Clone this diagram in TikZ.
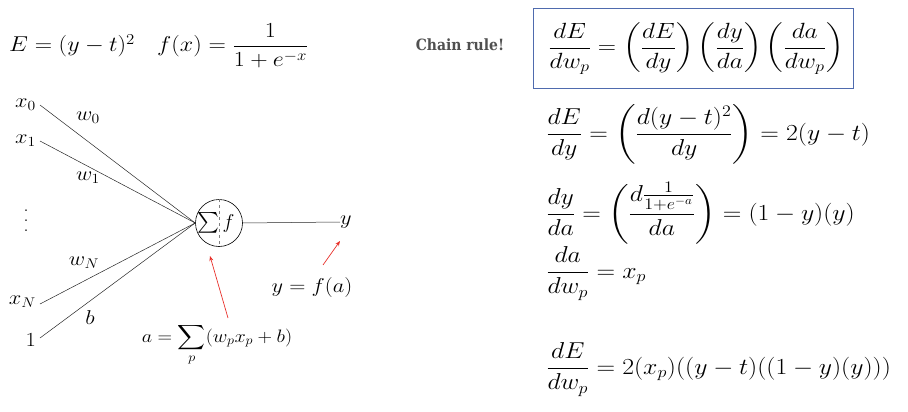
\RequirePackage{fix-cm}
\documentclass[tikz,border=0pt]{standalone}
\usepackage{amsmath}
\usepackage{graphicx}
\usepackage{fontspec}
\newfontfamily\chainfont{DejaVu Serif Condensed Bold}
\usetikzlibrary{arrows.meta}
\definecolor{boxblue}{HTML}{4F6BAE}
\definecolor{redarrow}{HTML}{E8302A}
\definecolor{chaingray}{HTML}{505050}
\newcommand\myxs[1]{\scalebox{1.12}[1]{#1}}
\tikzset{
  mathtxt/.style={inner sep=0pt, font=\fontsize{20}{24}\selectfont},
  bigmath/.style={inner sep=0pt, font=\fontsize{23}{27}\selectfont},
  topmath/.style={inner sep=0pt, font=\fontsize{21.5}{25}\selectfont},
  wire/.style={line width=0.5pt, draw=black!85},
  redarr/.style={draw=redarrow, line width=0.7pt, -{Stealth[length=5pt,width=4pt]}},
}
\begin{document}
\begin{tikzpicture}[x=1pt,y=-1pt]
\useasboundingbox (0,0) rectangle (908,412);
% top formulas
\node[topmath, anchor=base west] (eqE) at (9,52) {\myxs{$E=(y-t)^2$}};
\node[topmath, anchor=base west] (eqf) at (157,52) {\myxs{$f(x)=\dfrac{1}{1+e^{-x}}$}};
\node[anchor=center, font=\chainfont\fontsize{15.5}{18}\selectfont, text=chaingray] (chain) at (460,45) {Chain rule!};
% chain rule box
\draw[boxblue, line width=0.9pt] (533,8) rectangle (853,88);
\node[font=\fontsize{22}{26}\selectfont, inner sep=0pt, anchor=center] (chaineq) at (696,49)
  {\scalebox{1.15}[1]{$\dfrac{dE}{dw_p}=\left(\dfrac{dE}{dy}\right)\left(\dfrac{dy}{da}\right)\left(\dfrac{da}{dw_p}\right)$}};
% right equations
\node[bigmath, anchor=base west] (eq1) at (546,140) {\myxs{$\dfrac{dE}{dy}=\left(\dfrac{d(y-t)^2}{dy}\right)=2(y-t)$}};
\node[bigmath, anchor=base west] (eq2) at (546,220) {\myxs{$\dfrac{dy}{da}=\left(\dfrac{d\frac{1}{1+e^{-a}}}{da}\right)=(1-y)(y)$}};
\node[bigmath, anchor=base west] (eq3) at (546,278) {\myxs{$\dfrac{da}{dw_p}=x_p$}};
\node[bigmath, anchor=base west] (eq4) at (546,374) {\myxs{$\dfrac{dE}{dw_p}=2(x_p)((y-t)((1-y)(y)))$}};
% neuron
\node[mathtxt, anchor=east] (x0) at (36,105) {\myxs{$x_0$}};
\node[mathtxt, anchor=east] (x1) at (36,141) {\myxs{$x_1$}};
\node[mathtxt] (vd) at (26,221) {\vbox{\baselineskip=10pt\hbox{.}\hbox{.}\hbox{.}}};
\node[mathtxt, anchor=east] (xN) at (36,302) {\myxs{$x_N$}};
\node[mathtxt, anchor=east] (one) at (36,340) {\myxs{$1$}};
\node[draw, circle, minimum size=47pt, inner sep=0pt, line width=0.6pt] (neu) at (219,223) {};
\draw[dashed, black!50, line width=0.4pt] (neu.north) -- (neu.south);
\node[inner sep=0pt, font=\fontsize{22}{26}\selectfont] (sig) at (208.5,223) {$\sum$};
\node[mathtxt] (fn) at (228.5,223) {$f$};
\coordinate (x0s) at (40,105);
\coordinate (x1s) at (40,141);
\coordinate (xNs) at (40,304);
\coordinate (ones) at (40,338);
\draw[wire] (x0s) -- (neu.west);
\draw[wire] (x1s) -- (neu.west);
\draw[wire] (xNs) -- (neu.west);
\draw[wire] (ones) -- (neu.west);
\node[mathtxt, anchor=west] (yout) at (340,222) {\myxs{$y$}};
\draw[wire] (neu.east) -- (yout.west);
\node[mathtxt] (w0) at (88,118) {\myxs{$w_0$}};
\node[mathtxt] (w1) at (88,178) {\myxs{$w_1$}};
\node[mathtxt] (wN) at (84,263) {\myxs{$w_N$}};
\node[mathtxt] (bb) at (90,318) {\myxs{$b$}};
% annotations
\node[inner sep=0pt, font=\fontsize{18}{21}\selectfont, anchor=base] (aeq) at (217,342) {\myxs{$a=\displaystyle\sum_p(w_px_p+b)$}};
\node[mathtxt, anchor=center] (yfa) at (312,287) {\myxs{$y=f(a)$}};
\coordinate (a1s) at (228,318);
\coordinate (a1e) at (210,256);
\coordinate (a2s) at (323,265);
\coordinate (a2e) at (340,241);
\draw[redarr] (a1s) -- (a1e);
\draw[redarr] (a2s) -- (a2e);
\end{tikzpicture}
\end{document}
